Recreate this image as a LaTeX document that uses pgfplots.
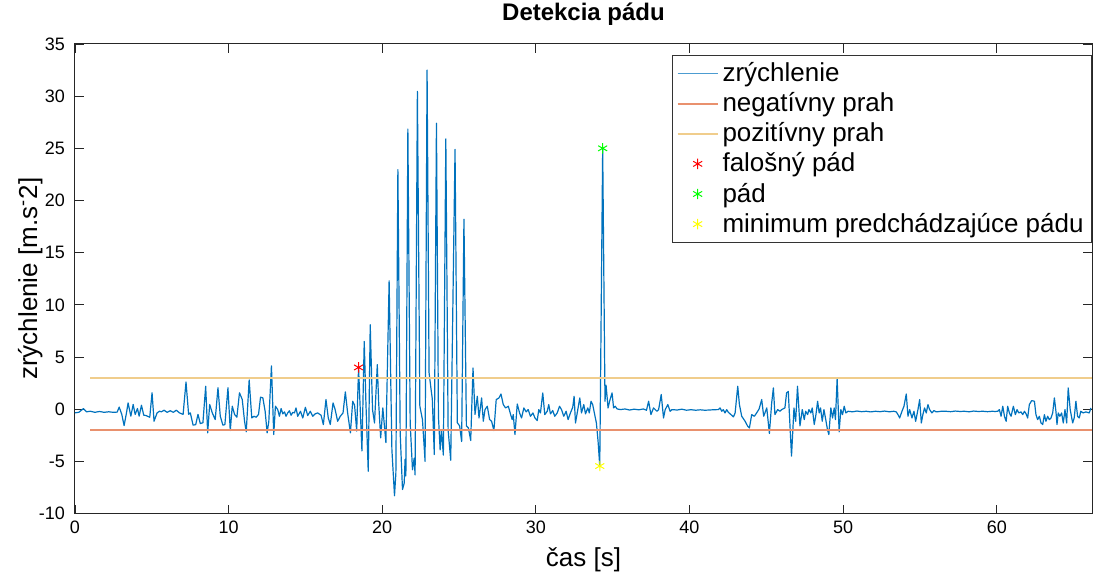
\documentclass[border=0pt]{standalone}
\usepackage{pgfplots}
\pgfplotsset{compat=1.18}
\usepackage{fontspec}
\setmainfont{Liberation Sans}
\definecolor{mblue}{RGB}{0,114,189}
\definecolor{mneg}{RGB}{233,145,110}
\definecolor{mpos}{RGB}{240,205,140}
\definecolor{mgreen}{RGB}{0,255,0}
\definecolor{myel}{RGB}{255,255,0}
\begin{document}
\begin{tikzpicture}
\begin{axis}[
  at={(0,0)}, anchor=south west,
  scale only axis, width=509pt, height=235pt,
  xmin=0, xmax=66.2, ymin=-10, ymax=35,
  xtick={0,10,...,60}, ytick={-10,-5,...,35},
  tick align=inside, major tick length=4.5pt,
  tick style={black!85, line width=0.4pt},
  axis line style={black!85, line width=0.5pt},
  /pgf/number format/assume math mode=true,
  ticklabel style={font=\fontsize{9}{10}\selectfont},
  yticklabel style={xshift=-1.5pt},
  title={Detekcia pádu},
  title style={font=\bfseries\fontsize{12}{14}\selectfont, at={(axis description cs:0.5,1.0234)}, anchor=base},
  xlabel={čas [s]},
  xlabel style={font=\fontsize{13}{15}\selectfont, at={(axis description cs:0.5,-0.1128)}, anchor=base},
  ylabel={zrýchlenie [m.s\textsuperscript{-}2]},
  ylabel style={font=\fontsize{13}{15}\selectfont, at={(axis description cs:-0.0373,0.5)}, anchor=base},
  legend cell align=left,
  legend style={at={(axis description cs:1,1)}, anchor=north east, yshift=-5.5pt,
    draw=black!80, fill=white, line width=0.5pt, font=\fontsize{13}{15}\selectfont,
    inner xsep=2pt, inner ysep=1.5pt, row sep=0pt},
]
\addplot[mblue, line width=0.6pt, line join=round,
  legend image code/.code={\draw[mblue!70, line width=0.9pt] (2pt,0pt) -- (22pt,0pt);}] coordinates {
(0.00,-0.35) (0.25,-0.30) (0.55,0.05) (0.75,-0.25) (1.00,-0.20) (1.30,-0.30) (1.60,-0.22) (1.90,-0.30) (2.20,-0.25) (2.50,-0.30) (2.75,-0.28) (2.88,0.20) (3.05,-0.50) (3.20,-1.57) (3.35,-0.40) (3.46,0.60) (3.64,-0.67) (3.79,0.45) (3.92,-0.50) (4.07,0.06) (4.18,-0.67) (4.33,0.38) (4.48,-0.58) (4.61,-0.60) (4.87,-0.77) (5.02,1.57) (5.15,-1.15) (5.35,-0.35) (5.50,-0.20) (5.63,-0.25) (5.80,-0.10) (6.00,-0.30) (6.20,-0.15) (6.40,-0.30) (6.60,-0.10) (6.80,-0.35) (7.04,-0.50) (7.23,2.60) (7.40,-0.50) (7.51,-0.35) (7.69,-1.53) (7.86,-1.48) (8.01,-0.50) (8.16,-1.38) (8.33,-1.30) (8.51,2.20) (8.64,-2.27) (8.77,0.45) (8.94,-0.35) (9.13,-1.00) (9.31,2.05) (9.46,-0.67) (9.63,-1.53) (9.76,-1.48) (9.96,2.05) (10.11,-2.05) (10.24,0.29) (10.39,-0.50) (10.54,-0.77) (10.71,1.57) (10.89,0.93) (11.04,-1.15) (11.15,-2.17) (11.34,2.80)
(11.51,-0.84) (11.65,-0.68) (11.80,-0.77) (11.95,-0.50) (12.08,1.15) (12.23,1.09) (12.38,-0.20) (12.51,-2.27) (12.62,-1.16) (12.79,4.15) (12.94,-2.43) (13.05,0.29) (13.20,-0.04) (13.31,-0.68) (13.42,0.06) (13.53,-0.45) (13.64,-0.26) (13.74,-0.68) (13.85,-0.36) (13.96,-0.15) (14.07,-0.58) (14.18,-0.30) (14.29,-0.36) (14.39,0.12) (14.50,-0.68) (14.68,-0.20) (14.83,-0.84) (15.00,0.18) (15.15,-0.61) (15.32,-0.20) (15.48,-0.68) (15.63,-0.45) (15.80,-0.36) (16.02,-0.58) (16.17,-1.47) (16.34,0.93) (16.49,-0.84) (16.62,-1.47) (16.80,0.60) (16.93,0.00) (17.10,-1.16) (17.27,-0.68) (17.45,-0.36) (17.60,1.66) (17.75,-0.36) (17.93,-2.27) (18.08,0.76) (18.20,0.40) (18.34,-2.10) (18.46,4.00) (18.68,-4.00) (18.83,6.50) (18.94,0.60) (19.09,-5.95) (19.22,8.10) (19.37,-0.04) (19.50,-1.32) (19.68,4.27) (19.77,0.60) (19.90,-2.75) (20.04,0.12) (20.24,-3.20) (20.45,12.30) (20.63,-3.87) (20.80,-8.30) (20.89,-6.10) (21.02,22.95) (21.17,-2.30) (21.32,-7.70) (21.43,-7.10) (21.49,-4.80) (21.54,-6.40) (21.67,26.85) (21.82,-1.32) (21.97,-5.80) (22.08,-4.70) (22.14,-6.30) (22.29,30.45) (22.45,0.28) (22.62,-1.00) (22.79,-5.00) (22.92,32.50) (23.05,3.50) (23.18,1.90) (23.26,1.00) (23.39,-4.35) (23.53,27.40) (23.66,-0.68) (23.77,-3.90) (23.85,-2.00) (23.98,-4.40) (24.14,25.90) (24.29,-2.00) (24.46,-4.90) (24.74,24.90) (24.89,-1.30) (25.04,-1.60) (25.17,-3.10) (25.32,18.20) (25.48,-1.60) (25.61,-1.80) (25.76,-3.00) (25.91,3.95)
(26.04,-0.50) (26.19,1.24) (26.30,-0.84) (26.47,1.08) (26.58,-1.16) (26.69,-0.04) (26.84,0.28) (26.99,-0.99) (27.12,-1.16) (27.27,-2.05) (27.42,0.92) (27.60,1.08) (27.73,1.46) (27.88,0.44) (28.03,0.12) (28.21,0.28) (28.36,-0.52) (28.46,-0.99) (28.53,-0.52) (28.64,-2.43) (28.79,0.50) (28.94,-0.36) (29.07,-0.84) (29.22,0.12) (29.37,-0.26) (29.50,-0.04) (29.65,-0.68) (29.81,-0.36) (29.94,-0.84) (30.09,-1.09) (30.19,-0.04) (30.30,-0.36) (30.45,1.56) (30.58,-0.52) (30.74,-0.20) (30.84,0.44) (30.95,-0.45) (31.10,-0.13) (31.23,-0.68) (31.39,-0.36) (31.54,0.28) (31.67,-0.04) (31.82,-0.68) (31.97,-0.20) (32.10,-1.00) (32.25,-0.36) (32.40,0.18) (32.49,1.24) (32.58,-1.32) (32.73,-0.04) (32.86,1.08) (32.97,-0.36) (33.12,0.44) (33.23,-0.45) (33.38,0.12) (33.48,-0.36) (33.59,0.76) (33.70,0.44) (33.83,-0.52) (33.94,-1.32) (34.05,-3.07) (34.16,-5.45) (34.35,25.00) (34.50,0.76) (34.57,2.30) (34.70,0.12) (34.80,0.76) (34.96,1.56) (35.06,0.12) (35.17,0.28) (35.28,0.03)
(35.50,-0.04) (35.80,0.02) (36.10,-0.08) (36.40,0.00) (36.70,-0.06) (37.00,0.02) (37.20,-0.10) (37.34,0.76) (37.49,-0.52) (37.66,0.12) (37.88,-0.20) (37.99,-0.04) (38.16,1.40) (38.31,-0.84) (38.42,-0.04) (38.59,0.44) (38.74,-0.20) (38.85,-0.04) (39.20,-0.08) (39.50,0.00) (39.80,-0.10) (40.10,-0.05) (40.40,-0.10) (40.70,-0.06) (41.00,-0.10) (41.30,-0.08) (41.60,-0.05) (41.88,-0.04) (41.99,0.12) (42.10,-0.20) (42.20,-0.04) (42.31,-0.36) (42.42,-0.04) (42.53,-0.30) (42.70,-0.52) (42.86,-0.74) (42.97,-0.36) (43.14,2.20) (43.25,0.44) (43.40,-0.68) (43.62,-1.16) (43.79,-1.64) (43.90,-1.80) (44.05,-0.52) (44.22,-0.68) (44.37,-0.36) (44.53,0.02) (44.70,0.92) (44.83,-0.68) (45.03,0.12) (45.20,-2.33) (45.35,0.60) (45.46,2.04) (45.56,-0.52) (45.74,-0.04) (45.89,-0.20) (46.00,-0.04) (46.21,0.12) (46.32,1.56) (46.43,1.70) (46.64,-4.50)
(46.80,0.12) (46.91,-1.16) (47.03,2.20) (47.19,-1.60) (47.34,-0.04) (47.47,-1.00) (47.56,-0.20) (47.69,-0.52) (47.77,-0.04) (47.90,-0.36) (47.99,0.12) (48.12,-1.47) (48.23,-0.52) (48.34,0.76) (48.44,-0.36) (48.53,0.12) (48.64,-1.16) (48.75,-0.04) (48.85,-0.84) (48.98,-1.95) (49.07,-2.43) (49.20,0.12) (49.31,-0.84) (49.42,0.12) (49.50,-1.00) (49.61,2.93) (49.74,-2.17) (49.85,-0.04) (49.96,-0.52) (50.07,0.28) (50.18,-0.36) (50.32,-0.20) (50.60,-0.25) (50.90,-0.18) (51.20,-0.24) (51.50,-0.20) (51.80,-0.26) (52.10,-0.20) (52.40,-0.24) (52.70,-0.18) (53.00,-0.25) (53.30,-0.20) (53.46,-0.26) (53.57,-0.52) (53.68,-0.84) (53.83,-0.20) (53.96,0.28) (54.11,1.46) (54.22,-0.68) (54.33,-0.04) (54.48,-0.84) (54.61,-0.20) (54.72,-1.16) (54.87,-0.04) (54.98,0.92) (55.09,-1.32) (55.19,-0.52) (55.30,0.12) (55.41,-0.36) (55.52,0.44) (55.63,-0.04) (55.78,-0.36) (55.91,-0.13) (56.06,-0.26) (56.39,-0.20) (56.70,-0.20) (57.00,-0.24) (57.30,-0.18) (57.60,-0.22) (57.90,-0.20) (58.20,-0.25) (58.50,-0.18) (58.80,-0.22) (59.10,-0.20) (59.40,-0.24) (59.70,-0.20) (59.90,-0.22)
(60.06,-0.20) (60.17,-0.04) (60.28,-0.68) (60.39,0.28) (60.50,-0.68) (60.61,-1.16) (60.71,0.28) (60.82,-0.36) (60.93,-0.68) (61.08,0.28) (61.21,-0.52) (61.32,-0.04) (61.43,-0.36) (61.58,-0.26) (61.69,-0.52) (61.80,-0.20) (61.91,-0.45) (62.01,-0.84) (62.12,0.44) (62.27,0.82) (62.45,0.76) (62.55,-0.52) (62.66,-1.00) (62.77,-0.68) (62.88,-1.32) (62.99,-1.47) (63.10,-0.52) (63.20,-1.16) (63.31,-0.68) (63.42,-1.00) (63.53,-0.84) (63.64,-0.36) (63.75,1.08) (63.85,-0.20) (63.92,-1.47) (64.00,-0.36) (64.11,-0.68) (64.22,-0.36) (64.33,-1.32) (64.44,-0.04) (64.55,-1.32) (64.65,2.04) (64.78,-0.04) (64.94,-1.32) (65.04,-0.84) (65.15,0.76) (65.26,-0.68) (65.37,-0.84) (65.47,-0.20) (65.62,-0.36) (65.80,-0.26) (66.02,-0.36) (66.13,0.12)
};
\addlegendentry{zrýchlenie}
\addplot[mneg, line width=0.7pt,
  legend image code/.code={\draw[mneg, line width=0.9pt] (2pt,0pt) -- (22pt,0pt);}] coordinates {(1,-2) (66.2,-2)};
\addlegendentry{negatívny prah}
\addplot[mpos, line width=0.7pt,
  legend image code/.code={\draw[mpos, line width=0.9pt] (2pt,0pt) -- (22pt,0pt);}] coordinates {(1,3) (66.2,3)};
\addlegendentry{pozitívny prah}
\addplot[only marks, mark=asterisk, mark size=2.6pt, red, mark options={line width=0.5pt},
  legend image code/.code={\draw[red, line width=0.5pt] plot[mark=asterisk, mark size=2.6pt] coordinates {(12pt,0pt)};}] coordinates {(18.46,4.0)};
\addlegendentry{falošný pád}
\addplot[only marks, mark=asterisk, mark size=2.6pt, mgreen, mark options={line width=0.5pt},
  legend image code/.code={\draw[mgreen, line width=0.5pt] plot[mark=asterisk, mark size=2.6pt] coordinates {(12pt,0pt)};}] coordinates {(34.35,25.0)};
\addlegendentry{pád}
\addplot[only marks, mark=asterisk, mark size=2.6pt, myel, mark options={line width=0.5pt},
  legend image code/.code={\draw[myel, line width=0.5pt] plot[mark=asterisk, mark size=2.6pt] coordinates {(12pt,0pt)};}] coordinates {(34.16,-5.45)};
\addlegendentry{minimum predchádzajúce pádu}
\end{axis}
\pgfresetboundingbox
\path (-37.5pt,-29pt) rectangle (510pt,257pt);
\end{tikzpicture}
\end{document}
